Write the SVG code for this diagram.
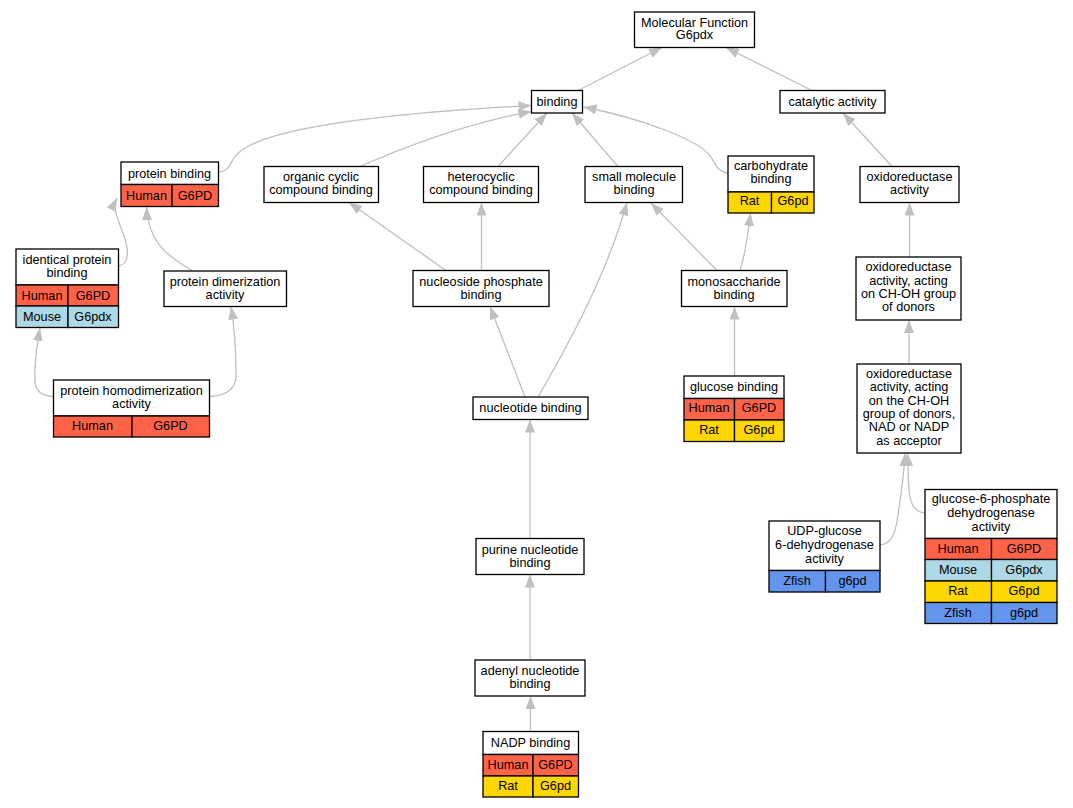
<svg xmlns="http://www.w3.org/2000/svg" width="1073" height="808" viewBox="0 0 1073 808">
<defs>
<marker id="ah" markerUnits="userSpaceOnUse" viewBox="0 0 13 10" refX="13" refY="5" markerWidth="13" markerHeight="10" orient="auto">
<path d="M0,0 L13,5 L0,10 z" fill="#c0c0c0"/>
</marker>
</defs>
<style>
.bx{fill:#fff;stroke:#000;stroke-width:1.3}
.ln{fill:none;stroke:#000;stroke-width:1.3}
.hu{fill:#ff6347;stroke:#000;stroke-width:1.3}
.mo{fill:#add8e6;stroke:#000;stroke-width:1.3}
.ra{fill:#ffd700;stroke:#000;stroke-width:1.3}
.zf{fill:#6495ed;stroke:#000;stroke-width:1.3}
text{font-family:"Liberation Sans",Arial,sans-serif;font-size:12.7px;text-anchor:middle;fill:#000}
#edges path{fill:none;stroke:#c0c0c0;stroke-width:1.3;marker-end:url(#ah)}
</style>
<rect width="1073" height="808" fill="#fff"/>
<g id="edges">
<path d="M578,90.5 L662,47.5"/>
<path d="M812,90.5 L726,47.5"/>
<path d="M360,166.5 C420,140 480,121 531.5,111.5"/>
<path d="M218.5,172 C228,172 230,164 234,158 C245,140 300,118 531.5,105.5"/>
<path d="M498,166.5 L547,113"/>
<path d="M618,166.5 L572,113"/>
<path d="M728,173 C718,172 716,165 711,157 C700,140 640,118 583.5,107"/>
<path d="M892,166.5 L843,113"/>
<path d="M118.5,266 C127,265 128,256 127,248 C125,230 110,212 117,198"/>
<path d="M192,270.5 C165,255 148,240 146.5,207"/>
<path d="M53.5,396.5 C40,396 35,390 35,380 C34,365 37,345 40,328"/>
<path d="M209.5,396.5 C222,396 236,392 236,375 C236,350 235,330 231,306.5"/>
<path d="M446,270.5 L349,202.5"/>
<path d="M481.5,270.5 L481.5,202.5"/>
<path d="M525,397 L490,306.5"/>
<path d="M538,397 C565,350 605,280 627,202.5"/>
<path d="M717,270.5 L651,203"/>
<path d="M740,270.5 C745,255 748,235 750.5,213"/>
<path d="M734.5,376 L734.5,306.5"/>
<path d="M530,538.5 L530,419.5"/>
<path d="M530,660 L530,574.5"/>
<path d="M530.5,731.5 L530.5,696"/>
<path d="M909.5,257 L909.5,202.5"/>
<path d="M909,364 L909,320"/>
<path d="M880,545 C893,544 896,530 898,515 C901,495 904,475 905,453"/>
<path d="M925,513 C912,512 910,500 909,490 C908,478 908,465 907.5,453"/>
</g>
<g id="n_mf">
<rect class="bx" x="634.5" y="12" width="120" height="35.5"/>
<text x="694.5" y="26.5">Molecular Function</text>
<text x="694.5" y="39">G6pdx</text>
</g>
<g id="n_binding">
<rect class="bx" x="531.5" y="90.5" width="51" height="22.5"/>
<text x="557" y="105.5">binding</text>
</g>
<g id="n_catalytic">
<rect class="bx" x="780" y="90.5" width="105" height="22.5"/>
<text x="832.5" y="105.5">catalytic activity</text>
</g>
<g id="n_protein_binding">
<rect class="bx" x="121" y="162" width="97.5" height="22.5"/>
<rect class="hu" x="121" y="184.5" width="51" height="22"/>
<rect class="hu" x="172" y="184.5" width="46.5" height="22"/>
<text x="169.5" y="177.5">protein binding</text>
<text x="146.5" y="199.5">Human</text>
<text x="195" y="199.5">G6PD</text>
</g>
<g id="n_organic">
<rect class="bx" x="264" y="166.5" width="114.5" height="36"/>
<text x="321" y="181">organic cyclic</text>
<text x="321" y="194">compound binding</text>
</g>
<g id="n_heterocyclic">
<rect class="bx" x="423.5" y="166.5" width="115" height="36"/>
<text x="481" y="181">heterocyclic</text>
<text x="481" y="194">compound binding</text>
</g>
<g id="n_small">
<rect class="bx" x="585" y="166.5" width="97.5" height="36"/>
<text x="634" y="181">small molecule</text>
<text x="634" y="194">binding</text>
</g>
<g id="n_carbohydrate">
<rect class="bx" x="728" y="156" width="86" height="36"/>
<rect class="ra" x="728" y="192" width="43.5" height="21"/>
<rect class="ra" x="771.5" y="192" width="42.5" height="21"/>
<text x="771" y="170">carbohydrate</text>
<text x="771" y="183">binding</text>
<text x="749.5" y="205">Rat</text>
<text x="793" y="205">G6pd</text>
</g>
<g id="n_oxid">
<rect class="bx" x="860" y="166.5" width="99" height="36"/>
<text x="909.5" y="181">oxidoreductase</text>
<text x="909.5" y="194">activity</text>
</g>
<g id="n_choh">
<rect class="bx" x="856" y="257" width="105" height="63"/>
<text x="908.5" y="271">oxidoreductase</text>
<text x="908.5" y="284.5">activity, acting</text>
<text x="908.5" y="297.8">on CH-OH group</text>
<text x="908.5" y="311">of donors</text>
</g>
<g id="n_nad">
<rect class="bx" x="857" y="364" width="104" height="89"/>
<text x="909" y="378">oxidoreductase</text>
<text x="909" y="391.4">activity, acting</text>
<text x="909" y="404.7">on the CH-OH</text>
<text x="909" y="418">group of donors,</text>
<text x="909" y="431.2">NAD or NADP</text>
<text x="909" y="444.6">as acceptor</text>
</g>
<g id="n_g6pd_act">
<rect class="bx" x="925" y="489.5" width="132" height="49"/>
<rect class="hu" x="925" y="538.5" width="66.5" height="21"/>
<rect class="hu" x="991.5" y="538.5" width="65.5" height="21"/>
<rect class="mo" x="925" y="559.5" width="66.5" height="21.5"/>
<rect class="mo" x="991.5" y="559.5" width="65.5" height="21.5"/>
<rect class="ra" x="925" y="581" width="66.5" height="21.5"/>
<rect class="ra" x="991.5" y="581" width="65.5" height="21.5"/>
<rect class="zf" x="925" y="602.5" width="66.5" height="21"/>
<rect class="zf" x="991.5" y="602.5" width="65.5" height="21"/>
<text x="991" y="503">glucose-6-phosphate</text>
<text x="991" y="517">dehydrogenase</text>
<text x="991" y="530.5">activity</text>
<text x="958" y="552.5">Human</text>
<text x="1024" y="552.5">G6PD</text>
<text x="958" y="573.5">Mouse</text>
<text x="1024" y="573.5">G6pdx</text>
<text x="958" y="595">Rat</text>
<text x="1024" y="595">G6pd</text>
<text x="958" y="616.5">Zfish</text>
<text x="1024" y="616.5">g6pd</text>
</g>
<g id="n_udp">
<rect class="bx" x="769" y="521" width="111" height="49.5"/>
<rect class="zf" x="769" y="570.5" width="56.5" height="21.5"/>
<rect class="zf" x="825.5" y="570.5" width="54.5" height="21.5"/>
<text x="824.5" y="535">UDP-glucose</text>
<text x="824.5" y="549">6-dehydrogenase</text>
<text x="824.5" y="562.5">activity</text>
<text x="797" y="584.5">Zfish</text>
<text x="852.5" y="584.5">g6pd</text>
</g>
<g id="n_identical">
<rect class="bx" x="16" y="249" width="102.5" height="36"/>
<rect class="hu" x="16" y="285" width="52" height="21"/>
<rect class="hu" x="68" y="285" width="50.5" height="21"/>
<rect class="mo" x="16" y="306" width="52" height="21.5"/>
<rect class="mo" x="68" y="306" width="50.5" height="21.5"/>
<text x="67" y="263.5">identical protein</text>
<text x="67" y="277">binding</text>
<text x="42" y="299.5">Human</text>
<text x="93" y="299.5">G6PD</text>
<text x="42" y="320.5">Mouse</text>
<text x="93" y="320.5">G6pdx</text>
</g>
<g id="n_dimer">
<rect class="bx" x="164" y="271" width="122.5" height="35.5"/>
<text x="225" y="285.5">protein dimerization</text>
<text x="225" y="298.5">activity</text>
</g>
<g id="n_homodimer">
<rect class="bx" x="53.5" y="380" width="156" height="36"/>
<rect class="hu" x="53.5" y="416" width="78.5" height="21"/>
<rect class="hu" x="132" y="416" width="77.5" height="21"/>
<text x="131.5" y="394.5">protein homodimerization</text>
<text x="131.5" y="407.5">activity</text>
<text x="92.5" y="429.5">Human</text>
<text x="170.5" y="429.5">G6PD</text>
</g>
<g id="n_nucleoside">
<rect class="bx" x="413" y="270.5" width="136" height="36"/>
<text x="481" y="285.5">nucleoside phosphate</text>
<text x="481" y="298.5">binding</text>
</g>
<g id="n_monosacch">
<rect class="bx" x="681.5" y="270.5" width="105.5" height="36"/>
<text x="734" y="285.5">monosaccharide</text>
<text x="734" y="298.5">binding</text>
</g>
<g id="n_nucleotide">
<rect class="bx" x="473" y="397" width="115" height="22.5"/>
<text x="530.5" y="411.5">nucleotide binding</text>
</g>
<g id="n_glucose">
<rect class="bx" x="684" y="376" width="100" height="22.5"/>
<rect class="hu" x="684" y="398.5" width="50.5" height="21.5"/>
<rect class="hu" x="734.5" y="398.5" width="49.5" height="21.5"/>
<rect class="ra" x="684" y="420" width="50.5" height="21.5"/>
<rect class="ra" x="734.5" y="420" width="49.5" height="21.5"/>
<text x="734" y="390.5">glucose binding</text>
<text x="709" y="412">Human</text>
<text x="759" y="412">G6PD</text>
<text x="709" y="433.5">Rat</text>
<text x="759" y="433.5">G6pd</text>
</g>
<g id="n_purine">
<rect class="bx" x="476" y="538.5" width="108" height="36"/>
<text x="530" y="553.5">purine nucleotide</text>
<text x="530" y="566.5">binding</text>
</g>
<g id="n_adenyl">
<rect class="bx" x="475" y="660" width="110" height="36"/>
<text x="530" y="675">adenyl nucleotide</text>
<text x="530" y="688">binding</text>
</g>
<g id="n_nadp">
<rect class="bx" x="483" y="731.5" width="95.5" height="23"/>
<rect class="hu" x="483" y="754.5" width="50" height="21.5"/>
<rect class="hu" x="533" y="754.5" width="45.5" height="21.5"/>
<rect class="ra" x="483" y="776" width="50" height="21"/>
<rect class="ra" x="533" y="776" width="45.5" height="21"/>
<text x="530.5" y="746.5">NADP binding</text>
<text x="508" y="768.5">Human</text>
<text x="555.5" y="768.5">G6PD</text>
<text x="508" y="790">Rat</text>
<text x="555.5" y="790">G6pd</text>
</g>
</svg>
